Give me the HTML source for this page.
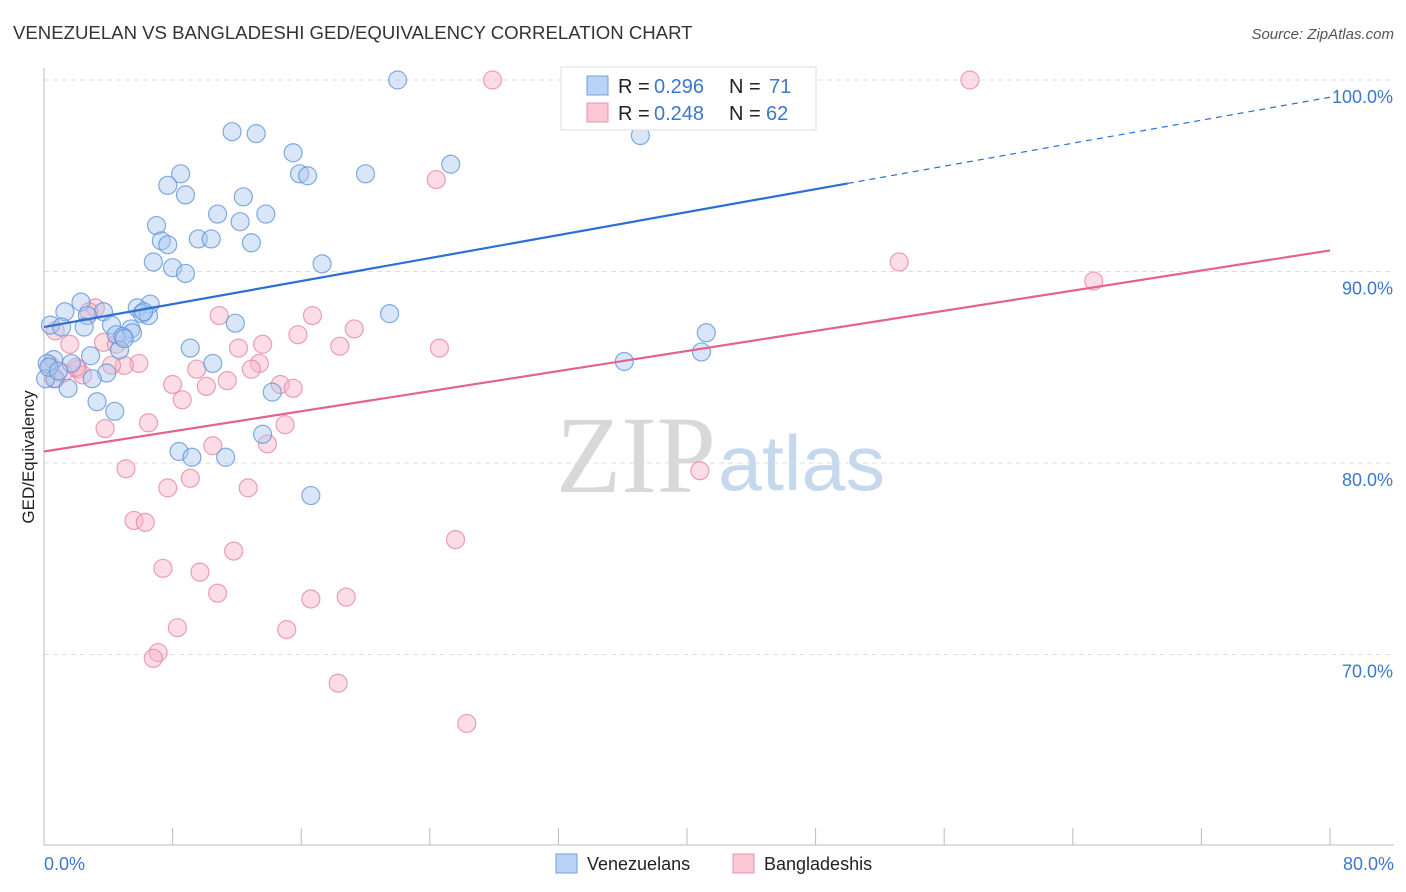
<!DOCTYPE html>
<html><head><meta charset="utf-8"><style>
body{margin:0;background:#fff;font-family:"Liberation Sans",sans-serif;}
#wrap{position:relative;width:1406px;height:892px;overflow:hidden;}
</style></head><body>
<div id="wrap">
<svg id="svg" width="1406" height="892" xmlns="http://www.w3.org/2000/svg">
<text x="13" y="39" font-size="18.6" fill="#333">VENEZUELAN VS BANGLADESHI GED/EQUIVALENCY CORRELATION CHART</text>
<text x="1394" y="39" font-size="15" fill="#555" font-style="italic" text-anchor="end">Source: ZipAtlas.com</text>
<text x="716" y="492" font-size="110" fill="#d8d8d8" text-anchor="end" font-family="Liberation Serif,serif" textLength="160" lengthAdjust="spacingAndGlyphs">ZIP</text>
<text x="718" y="490" font-size="78" fill="#c6d8ee" textLength="167" lengthAdjust="spacingAndGlyphs">atlas</text>
<g id="grid"></g>
<g id="axes"></g>
<g id="pts"></g>
<g id="lines"></g>
<text transform="translate(34,457) rotate(-90)" font-size="17" fill="#222" text-anchor="middle">GED/Equivalency</text>
<text x="44" y="870" font-size="18" fill="#3a78d0">0.0%</text>
<text x="1394" y="870" font-size="18" fill="#3a78d0" text-anchor="end">80.0%</text>
<g>
<rect x="561" y="67" width="255" height="63" fill="#fff" stroke="#ddd"/>
<rect x="587" y="76" width="21" height="19" fill="#b8d3f5" stroke="#6fa0de"/>
<rect x="587" y="103" width="21" height="19" fill="#fbc8d6" stroke="#ea90ad"/>
<text x="618" y="93" font-size="20" fill="#222">R =</text>
<text x="654" y="93" font-size="20" fill="#3a78d0">0.296</text>
<text x="729" y="93" font-size="20" fill="#222">N =</text>
<text x="769" y="93" font-size="20" fill="#3a78d0">71</text>
<text x="618" y="120" font-size="20" fill="#222">R =</text>
<text x="654" y="120" font-size="20" fill="#3a78d0">0.248</text>
<text x="729" y="120" font-size="20" fill="#222">N =</text>
<text x="766" y="120" font-size="20" fill="#3a78d0">62</text>
</g>
<g>
<rect x="556" y="854" width="21" height="19" fill="#b8d3f5" stroke="#6fa0de"/>
<text x="587" y="870" font-size="18" fill="#222">Venezuelans</text>
<rect x="733" y="854" width="21" height="19" fill="#fbc8d6" stroke="#ea90ad"/>
<text x="764" y="870" font-size="18" fill="#222">Bangladeshis</text>
</g>
</svg>
</div>
<script>
const yTicks=[100,90,80,70];
const yTickLabels=["100.0%","90.0%","80.0%","70.0%"];
const xTicks=[0,8,16,24,32,40,48,56,64,72,80];
const venX=[22.0,11.7,13.2,37.1,15.5,8.5,15.9,16.4,20.0,25.3,7.7,8.8,12.4,10.8,13.8,7.0,12.2,7.3,7.7,9.6,10.4,12.9,6.8,8.0,8.8,17.3,2.3,1.3,3.7,2.7,6.6,5.8,6.1,6.5,0.4,1.1,2.5,4.2,11.9,21.5,4.5,5.4,5.5,4.9,4.7,9.1,41.2,40.9,2.9,0.6,1.7,0.2,36.1,10.5,3.9,0.7,0.1,3.0,1.5,3.3,4.4,14.2,13.6,8.4,9.2,11.3,16.6,0.3,0.9,5.0,6.2];
const venY=[100.0,97.3,97.2,97.1,96.2,95.1,95.1,95.0,95.1,95.6,94.5,94.0,93.9,93.0,93.0,92.4,92.6,91.6,91.4,91.7,91.7,91.5,90.5,90.2,89.9,90.4,88.4,87.9,87.9,87.7,88.3,88.1,87.8,87.7,87.2,87.1,87.1,87.2,87.3,87.8,86.7,87.0,86.8,86.6,85.9,86.0,86.8,85.8,85.6,85.4,85.2,85.2,85.3,85.2,84.7,84.4,84.4,84.4,83.9,83.2,82.7,83.7,81.5,80.6,80.3,80.3,78.3,85.0,84.8,86.5,87.9];
const banX=[27.9,57.6,24.4,53.2,65.3,3.2,2.8,10.9,16.7,0.7,15.8,19.3,3.7,1.6,4.5,12.1,13.6,18.4,24.6,13.4,5.9,5.0,4.2,2.1,2.4,12.9,9.5,8.0,10.1,11.4,14.7,15.5,8.6,15.0,6.5,3.8,10.5,13.9,5.1,40.8,7.7,12.7,9.1,5.6,6.3,25.6,11.8,7.4,9.7,10.8,18.8,16.6,8.3,15.1,7.1,6.8,18.3,26.3,0.4,1.2,2.0,0.6];
const banY=[100.0,100.0,94.8,90.5,89.5,88.1,87.9,87.7,87.7,86.9,86.7,87.0,86.3,86.2,86.2,86.0,86.2,86.1,86.0,85.2,85.2,85.1,85.1,84.9,84.6,84.9,84.9,84.1,84.0,84.3,84.1,83.9,83.3,82.0,82.1,81.8,80.9,81.0,79.7,79.6,78.7,78.7,79.2,77.0,76.9,76.0,75.4,74.5,74.3,73.2,73.0,72.9,71.4,71.3,70.1,69.8,68.5,66.4,85.1,84.7,85.0,84.4];
const venTrend=[87.1,99.1];
const banTrend=[80.6,91.1];
const venSolidEnd=50;
const NS="http://www.w3.org/2000/svg";
const X0=44,X1=1330;
function sx(v){return X0+(X1-X0)*v/80;}
function sy(v){return 80+(100-v)*19.15;}
function mk(tag,attrs,parent){const e=document.createElementNS(NS,tag);for(const k in attrs)e.setAttribute(k,attrs[k]);parent.appendChild(e);return e;}
const grid=document.getElementById('grid'),axes=document.getElementById('axes'),pts=document.getElementById('pts'),lines=document.getElementById('lines');
yTicks.forEach((t,i)=>{
 const l=mk('line',{x1:X0,x2:1394,y1:sy(t),y2:sy(t),stroke:'#ddd','stroke-dasharray':'5,4'},grid);
 
 
 const tx=mk('text',{x:1393,y:sy(t)+23,'font-size':18,fill:'#3a78d0','text-anchor':'end'},grid);
 tx.textContent=yTickLabels[i];
 
 
});
const ya=mk('line',{x1:X0,x2:X0,y1:68,y2:845,stroke:'#bbb'},axes);


const xa=mk('line',{x1:X0,x2:1394,y1:845,y2:845,stroke:'#bbb'},axes);


xTicks.forEach(t=>{
 const l=mk('line',{x1:sx(t),x2:sx(t),y1:828,y2:845,stroke:'#bbb'},axes);
 
 
});
function drawPts(xs,ys,fill,stroke,name){
 xs.forEach((x,i)=>{
  const c=mk('circle',{cx:sx(x),cy:sy(ys[i]),r:9,fill:fill,'fill-opacity':0.45,stroke:stroke,'stroke-opacity':0.75,'stroke-width':1.2},pts);
  
  
 });
}
drawPts(banX,banY,'#f8b4c8','#e8809f','bangladeshi-point');
drawPts(venX,venY,'#a9c8f0','#5a90d8','venezuelan-point');
function tr(t,x){return t[0]+(t[1]-t[0])*x/80;}
const vl=mk('line',{x1:sx(0),y1:sy(tr(venTrend,0)),x2:sx(venSolidEnd),y2:sy(tr(venTrend,venSolidEnd)),stroke:'#2a6fd6','stroke-width':2.2},lines);


const vd=mk('line',{x1:sx(venSolidEnd),y1:sy(tr(venTrend,venSolidEnd)),x2:sx(80),y2:sy(tr(venTrend,80)),stroke:'#2a6fd6','stroke-width':1.2,'stroke-dasharray':'6,5'},lines);


const bl=mk('line',{x1:sx(0),y1:sy(tr(banTrend,0)),x2:sx(80),y2:sy(tr(banTrend,80)),stroke:'#e4628e','stroke-width':2.2},lines);


</script>
</body></html>
